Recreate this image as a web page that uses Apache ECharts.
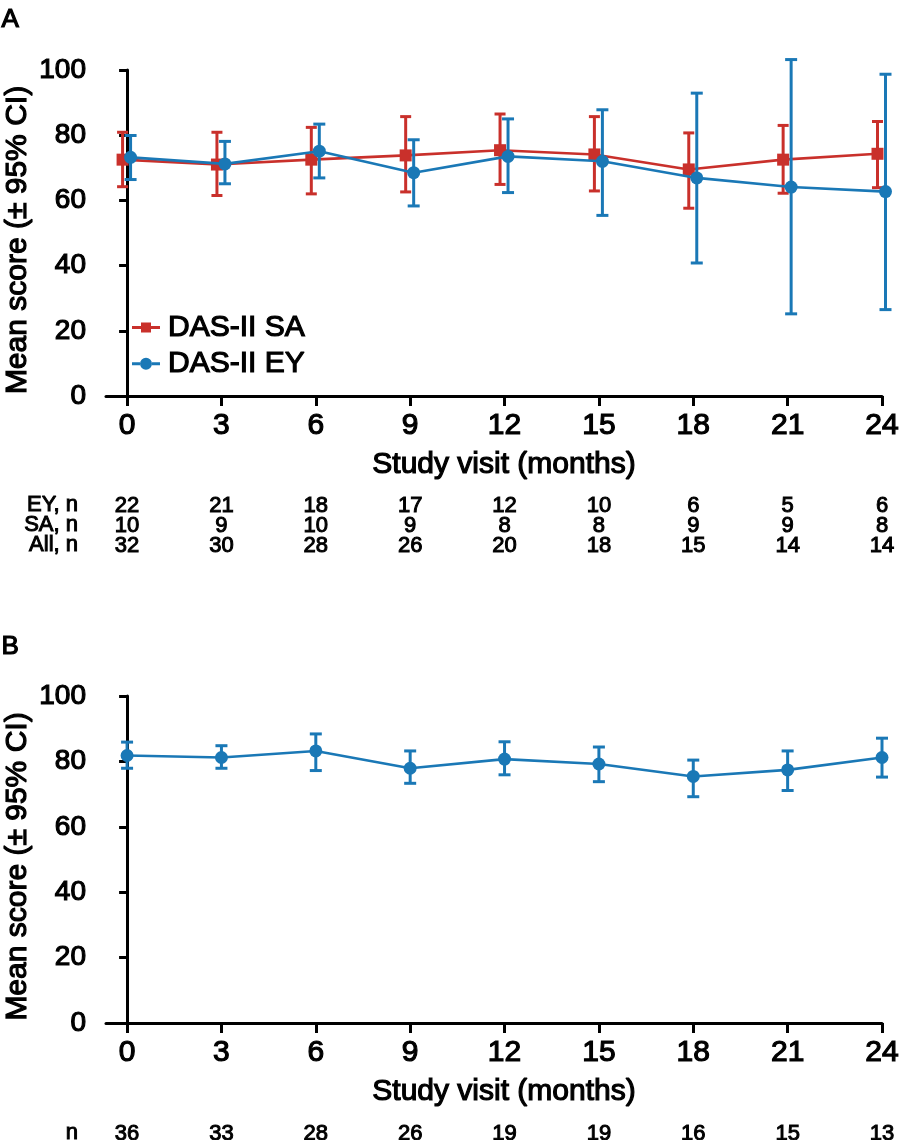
<!DOCTYPE html>
<html><head><meta charset="utf-8">
<script src="https://cdn.jsdelivr.net/npm/echarts@6/dist/echarts.min.js"></script>
<style>html,body{margin:0;padding:0;background:#fff}#c{width:904px;height:1140px}</style>
</head><body><div id="c"></div>
<script>
// ---- data ----
const months = [0, 3, 6, 9, 12, 15, 18, 21, 24];
const yTicks = [0, 20, 40, 60, 80, 100];

// Panel A: DAS-II SA
const saMean = [72.5, 71.0, 72.5, 73.8, 75.4, 74.1, 69.5, 72.5, 74.3];
const saLow  = [64.2, 61.5, 62.0, 62.6, 64.9, 62.9, 57.6, 62.2, 63.9];
const saHigh = [80.9, 80.9, 82.4, 85.7, 86.5, 85.7, 80.7, 83.0, 84.2];
// Panel A: DAS-II EY
const eyMean = [73.2, 71.2, 75.1, 68.5, 73.5, 72.0, 66.9, 64.1, 62.7];
const eyLow  = [66.4, 65.1, 66.9, 58.3, 62.4, 55.4, 40.8, 25.2, 26.5];
const eyHigh = [79.9, 78.1, 83.4, 78.6, 85.0, 87.8, 92.9, 103.2, 98.7];
// Panel B: all
const bMean = [81.8, 81.2, 83.2, 77.9, 80.7, 79.2, 75.4, 77.4, 81.2];
const bLow  = [77.9, 77.9, 77.2, 73.3, 75.9, 73.8, 69.2, 71.1, 75.2];
const bHigh = [85.9, 84.8, 88.4, 83.2, 86.0, 84.4, 80.4, 83.2, 87.1];

// n at each visit
const eyN  = [22, 21, 18, 17, 12, 10, 6, 5, 6];
const saN  = [10, 9, 10, 9, 8, 8, 9, 9, 8];
const allN = [32, 30, 28, 26, 20, 18, 15, 14, 14];
const bN   = [36, 33, 28, 26, 19, 19, 16, 15, 13];
const rowLabelsA = ['EY, n', 'SA, n', 'All, n'];
const rowLabelB = 'n';

// ---- style ----
const FONT = "'Liberation Sans', Arial, Helvetica, sans-serif";
const RED = '#C9302B', BLUE = '#1A78B6';
const X_MIN = -0.67, X_MAX = 24;
function T(size, extra, bw) {
  return Object.assign({fontSize: size, color: '#000', fontFamily: FONT,
    textBorderColor: '#000', textBorderWidth: bw == null ? 1.2 : bw}, extra || {});
}

function mainX(g) {
  return {
    type: 'value', gridIndex: g, min: X_MIN, max: X_MAX, position: 'bottom',
    axisLine: {show: true, onZero: false, lineStyle: {color: '#000', width: 3}},
    axisTick: {show: true, customValues: months, length: 10, lineStyle: {color: '#000', width: 3}},
    axisLabel: Object.assign({show: true, customValues: months, margin: 15}, T(30)),
    splitLine: {show: false},
    name: 'Study visit (months)', nameLocation: 'middle', nameGap: 54, nameMoveOverlap: false,
    nameTextStyle: T(30, {padding: [0, 0, 0, 20]})
  };
}
function countX(g, off, arr) {
  return {
    type: 'value', gridIndex: g, min: X_MIN, max: X_MAX, position: 'bottom', offset: off,
    axisLine: {show: false}, axisTick: {show: false}, splitLine: {show: false},
    axisLabel: Object.assign({show: true, customValues: months, margin: 0, verticalAlign: 'middle',
      formatter: function (v) { const i = months.indexOf(Math.round(v)); return i < 0 ? '' : String(arr[i]); }
    }, T(22, null, 1.0))
  };
}
function mainY(g) {
  return {
    type: 'value', gridIndex: g, min: 0, max: 100, interval: 20,
    axisLine: {show: true, lineStyle: {color: '#000', width: 3}},
    axisTick: {show: true, length: 8, lineStyle: {color: '#000', width: 3}},
    axisLabel: Object.assign({margin: 20}, T(28)),
    splitLine: {show: false},
    name: 'Mean score (± 95% CI)', nameLocation: 'middle', nameGap: 73, nameMoveOverlap: false,
    nameTextStyle: T(30, {padding: [0, 14, 0, 0]})
  };
}
function rowLabel(text, y) {
  return {type: 'text', x: 78, y: y, style: {text: text, font: '22px ' + FONT, fill: '#000',
    stroke: '#000', lineWidth: 1.0, align: 'right', verticalAlign: 'middle'}};
}

function errSeries(name, xi, yi, mean, low, high, color, symbol, dx, size, cap) {
  const data = months.map((m, i) => [m, mean[i], low[i], high[i], i]);
  return {
    type: 'custom', name: name, xAxisIndex: xi, yAxisIndex: yi, data: data, clip: false,
    itemStyle: {color: color},
    encode: {x: 0, y: [1, 2, 3]},
    renderItem: function (params, api) {
      const i = api.value(4);
      const x0 = api.value(0);
      const p = api.coord([x0, api.value(1)]);
      const lo = api.coord([x0, api.value(2)]);
      const hi = api.coord([x0, api.value(3)]);
      const x = p[0] + dx;
      const ch = [];
      if (i < months.length - 1) {
        const q = api.coord([months[i + 1], mean[i + 1]]);
        ch.push({type: 'line', shape: {x1: x, y1: p[1], x2: q[0] + dx, y2: q[1]},
          style: {stroke: color, lineWidth: 2.6}});
      }
      ch.push({type: 'line', shape: {x1: x, y1: lo[1], x2: x, y2: hi[1]}, style: {stroke: color, lineWidth: 3}});
      ch.push({type: 'line', shape: {x1: x - cap / 2, y1: lo[1], x2: x + cap / 2, y2: lo[1]}, style: {stroke: color, lineWidth: 3}});
      ch.push({type: 'line', shape: {x1: x - cap / 2, y1: hi[1], x2: x + cap / 2, y2: hi[1]}, style: {stroke: color, lineWidth: 3}});
      if (symbol === 'rect') {
        ch.push({type: 'rect', shape: {x: x - size / 2, y: p[1] - size / 2, width: size, height: size}, style: {fill: color}});
      } else {
        ch.push({type: 'circle', shape: {cx: x, cy: p[1], r: size / 2}, style: {fill: color}});
      }
      return {type: 'group', children: ch};
    }
  };
}

const SA_ICON = 'path://M0,4.5H9V7.5H0Z M9,1H19V11H9Z M19,4.5H28V7.5H19Z';
const EY_ICON = 'path://M0,4.5H8V7.5H0Z M20,4.5H28V7.5H20Z M8,6A6,6 0 1,0 20,6A6,6 0 1,0 8,6Z';

const option = {
  animation: false,
  backgroundColor: '#fff',
  grid: [
    {left: 106, top: 70, width: 776, height: 326, containLabel: false, outerBoundsMode: 'none'},
    {left: 106, top: 696, width: 776, height: 327, containLabel: false, outerBoundsMode: 'none'}
  ],
  xAxis: [
    mainX(0),
    countX(0, 110, eyN),
    countX(0, 130, saN),
    countX(0, 150, allN),
    mainX(1),
    countX(1, 111, bN)
  ],
  yAxis: [mainY(0), mainY(1)],
  legend: {
    data: [{name: 'DAS-II SA', icon: SA_ICON}, {name: 'DAS-II EY', icon: EY_ICON}],
    orient: 'vertical', left: 132, top: 312, padding: 0,
    itemWidth: 28, itemHeight: 12, itemGap: 5, selectedMode: false,
    textStyle: T(30, {lineHeight: 30, padding: [0, 0, 0, 3]})
  },
  graphic: [
    {type: 'text', left: 1, top: 6, style: {text: 'A', font: '26px ' + FONT, fill: '#000', stroke: '#000', lineWidth: 1.2}},
    {type: 'text', left: 1, top: 633, style: {text: 'B', font: '26px ' + FONT, fill: '#000', stroke: '#000', lineWidth: 1.2}},
    rowLabel(rowLabelsA[0], 505),
    rowLabel(rowLabelsA[1], 525),
    rowLabel(rowLabelsA[2], 545),
    rowLabel(rowLabelB, 1133)
  ],
  series: [
    errSeries('DAS-II SA', 0, 0, saMean, saLow, saHigh, RED, 'rect', -4.5, 12, 11),
    errSeries('DAS-II EY', 0, 0, eyMean, eyLow, eyHigh, BLUE, 'circle', 3.5, 13, 12),
    errSeries('All', 4, 1, bMean, bLow, bHigh, BLUE, 'circle', 0, 13, 12)
  ]
};
const chart = echarts.init(document.getElementById('c'), null, {renderer: 'canvas'});
chart.setOption(option);
</script>
</body></html>
